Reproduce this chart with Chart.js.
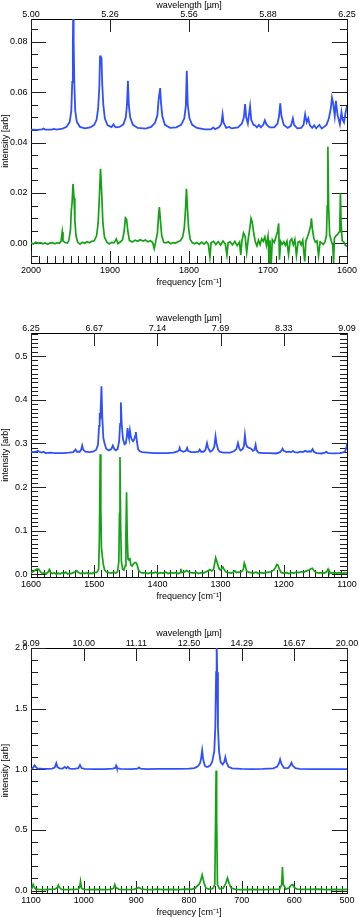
<!DOCTYPE html>
<html>
<head>
<meta charset="utf-8">
<script src="https://cdn.jsdelivr.net/npm/chart.js@4.4.1/dist/chart.umd.min.js"></script>
<style>
  html, body { margin: 0; padding: 0; background: #fff; overflow: hidden; }
  body { width: 359px; height: 918px; position: relative; }
  canvas { position: absolute; left: 0; }
</style>
</head>
<body>
<canvas id="p1" width="359" height="300" style="top:0px"></canvas>
<canvas id="p2" width="359" height="306" style="top:306px"></canvas>
<canvas id="p3" width="359" height="306" style="top:612px"></canvas>
<script>
// ---- panel 1: 2000-1600 cm-1 ----
const p1FreqTicks = [2000, 1900, 1800, 1700, 1600];
const p1WaveLabels = ['5.00', '5.26', '5.56', '5.88', '6.25'];
const p1IntTicks = [0.00, 0.02, 0.04, 0.06, 0.08];
const p1IntLabels = ['0.00', '0.02', '0.04', '0.06', '0.08'];
const p1Blue = [[2000,0.0451],[1992,0.0450],[1986,0.0452],[1984,0.0455],[1982,0.0451],[1974,0.0451],[1971,0.0454],[1968,0.0451],[1960,0.0455],[1955,0.0462],[1951,0.0482],[1949,0.0525],[1947.8,0.064],[1947,0.080],[1946.5,0.096],[1946,0.080],[1945.2,0.064],[1944,0.0525],[1942,0.0482],[1938,0.0462],[1932,0.0456],[1925,0.0460],[1920,0.0470],[1917,0.0490],[1915,0.0535],[1913.5,0.062],[1912.6,0.0745],[1911.6,0.0715],[1910.8,0.0738],[1909.8,0.063],[1908.5,0.055],[1906.5,0.0495],[1903,0.0468],[1898,0.0461],[1895.5,0.0472],[1893,0.0460],[1888,0.0462],[1883,0.0472],[1880,0.0500],[1878.5,0.0550],[1877.3,0.0645],[1876.2,0.0550],[1874.5,0.0500],[1871,0.0470],[1865,0.0458],[1861,0.0457],[1855,0.0455],[1848,0.0462],[1843,0.0478],[1840,0.0508],[1838.6,0.0565],[1837.8,0.0585],[1836.5,0.0616],[1835.4,0.0555],[1833.8,0.0505],[1830.5,0.0470],[1824,0.0458],[1816,0.0460],[1810,0.0470],[1806,0.0495],[1804,0.0545],[1802.8,0.0685],[1801.6,0.0550],[1799.5,0.0497],[1796,0.0470],[1790,0.0458],[1780,0.0452],[1772,0.0452],[1769.5,0.0460],[1767,0.0453],[1762,0.0460],[1759,0.0475],[1757.5,0.0512],[1756.3,0.0480],[1753,0.0458],[1749,0.0462],[1746,0.0456],[1738,0.0460],[1733,0.0475],[1730.5,0.0500],[1729,0.0552],[1727.6,0.0500],[1725.5,0.0475],[1722.7,0.0544],[1721.2,0.0490],[1718.5,0.0470],[1716.5,0.0468],[1714,0.0460],[1711.5,0.0470],[1709,0.0460],[1706,0.0470],[1704,0.0488],[1702,0.0472],[1698,0.0460],[1692,0.0460],[1688,0.0475],[1686,0.0505],[1684.5,0.0555],[1683,0.0505],[1680,0.0470],[1675,0.0458],[1671,0.0466],[1668.5,0.0496],[1667,0.0470],[1663,0.0456],[1658,0.0458],[1655,0.0470],[1653,0.0512],[1651,0.0480],[1649,0.0496],[1647,0.0468],[1644,0.0458],[1641.5,0.0468],[1639,0.0456],[1635,0.0470],[1632,0.0456],[1629,0.0462],[1626,0.0470],[1623,0.0495],[1620.5,0.0535],[1619,0.0578],[1617.5,0.0555],[1615.5,0.0505],[1614,0.0565],[1612,0.0510],[1609,0.0472],[1607,0.0521],[1605.5,0.0490],[1603.8,0.0480],[1602,0.0515],[1600,0.0545]];
const p1Green = [[2000,0.0002],[1997,-0.0003],[1994,0.0004],[1991,0.0000],[1988,0.0003],[1985,-0.0002],[1982,0.0002],[1979,-0.0004],[1976,0.0001],[1973,0.0003],[1970,-0.0002],[1967,0.0002],[1964,0.0000],[1962,0.0008],[1960.5,0.0045],[1959.5,0.0010],[1957,0.0003],[1954,0.0001],[1952,0.0012],[1950,0.0055],[1949,0.0130],[1948,0.0160],[1946.8,0.0235],[1945.5,0.0180],[1944.5,0.0090],[1943,0.0030],[1941,0.0005],[1938,-0.0003],[1935,0.0004],[1932,0.0000],[1929,0.0006],[1926,0.0002],[1923,0.0008],[1920,0.0010],[1917,0.0030],[1915,0.0080],[1913.5,0.0180],[1912,0.0296],[1910.5,0.0200],[1909,0.0080],[1907,0.0025],[1904,0.0005],[1901,-0.0002],[1898,0.0004],[1895,0.0002],[1892,0.0017],[1890,-0.0001],[1887,0.0005],[1884,0.0015],[1882,0.0050],[1880.5,0.0101],[1879,0.0095],[1877.5,0.0050],[1875.5,0.0012],[1872,0.0005],[1868,0.0012],[1865,0.0008],[1862,0.0014],[1858,0.0009],[1855,0.0013],[1852,0.0006],[1849,0.0010],[1846,0.0003],[1844,-0.0021],[1842,0.0010],[1840,0.0040],[1838.5,0.0110],[1837.5,0.0144],[1836.2,0.0090],[1834.5,0.0030],[1832,0.0004],[1829,0.0002],[1826,0.0006],[1823,-0.0002],[1820,0.0003],[1817,0.0001],[1814,0.0006],[1811,0.0010],[1808,0.0025],[1806,0.0060],[1804.5,0.0130],[1803.2,0.0216],[1802,0.0140],[1800.5,0.0060],[1798.5,0.0015],[1796,0.0003],[1793,-0.0002],[1790,0.0003],[1787,-0.0004],[1784,0.0005],[1781,-0.0003],[1778,0.0006],[1775.5,-0.0004],[1773.5,-0.0055],[1772,0.0003],[1769,0.0008],[1766,-0.0005],[1763,0.0007],[1760,-0.0007],[1757,0.0009],[1754,-0.0003],[1752,-0.0047],[1750.5,0.0002],[1748,0.0006],[1745,-0.0006],[1742,0.0008],[1739,-0.0009],[1736,0.0005],[1734.5,-0.0046],[1733,0.0010],[1731,0.0041],[1729,0.0028],[1727,-0.0036],[1725,0.0018],[1723,0.0060],[1721.5,0.0099],[1720,0.0085],[1718,0.0040],[1716,0.0005],[1714,-0.0010],[1712,0.0012],[1710,-0.0005],[1708,0.0018],[1706,0.0008],[1704,0.0025],[1702,-0.0008],[1700,0.0028],[1698.5,-0.0085],[1697.5,0.0012],[1696,-0.0085],[1694.5,0.0015],[1692,0.0003],[1690,0.0025],[1688,0.0045],[1686.5,0.0079],[1685.5,-0.0065],[1684,0.0008],[1682,-0.0004],[1680,0.0006],[1678,-0.0008],[1676,0.0008],[1674,-0.0044],[1672,0.0010],[1670,0.0018],[1668,-0.0006],[1666,0.0015],[1664,-0.0048],[1662,0.0004],[1660,0.0008],[1658,-0.0006],[1656,0.0012],[1653.5,-0.0072],[1652,0.0010],[1650,0.0025],[1648,0.0045],[1646,0.0070],[1645,0.0099],[1644,0.0060],[1642,0.0020],[1640,0.0005],[1638,0.0010],[1636,-0.0048],[1634,0.0006],[1632,0.0002],[1630,-0.0004],[1628,0.0006],[1626,0.0030],[1625,0.0150],[1624.2,0.0383],[1623.3,0.0150],[1622,0.0035],[1620,0.0010],[1618,-0.0008],[1617,-0.0078],[1616,0.0020],[1614,0.0030],[1612,0.0035],[1610,0.0045],[1609,0.0090],[1608.3,0.0199],[1607.5,0.0080],[1606,0.0010],[1604,0.0005],[1602,-0.0008],[1600,-0.0012]];

// ---- panel 2: 1600-1100 cm-1 ----
const p2FreqTicks = [1600, 1500, 1400, 1300, 1200, 1100];
const p2WaveLabels = ['6.25', '6.67', '7.14', '7.69', '8.33', '9.09'];
const p2IntTicks = [0.0, 0.1, 0.2, 0.3, 0.4, 0.5];
const p2IntLabels = ['0.0', '0.1', '0.2', '0.3', '0.4', '0.5'];
const p2Blue = [[1600,0.281],[1596,0.280],[1592,0.281],[1589,0.283],[1587,0.281],[1583,0.279],[1580,0.281],[1577,0.278],[1570,0.279],[1562,0.278],[1550,0.278],[1540,0.279],[1533,0.280],[1529.5,0.286],[1527.5,0.281],[1523,0.281],[1520.5,0.286],[1519,0.295],[1517.5,0.286],[1514,0.281],[1508,0.280],[1502,0.281],[1497,0.285],[1494,0.297],[1492.3,0.340],[1491.3,0.370],[1490.3,0.355],[1488.5,0.431],[1487.2,0.360],[1485.5,0.312],[1483.5,0.300],[1481,0.288],[1477,0.284],[1473,0.287],[1470.5,0.295],[1468.5,0.288],[1466,0.284],[1463,0.287],[1460.5,0.305],[1459,0.345],[1457.8,0.394],[1456.5,0.345],[1454.5,0.310],[1452,0.298],[1450,0.300],[1448.5,0.315],[1447.2,0.335],[1446,0.318],[1445,0.312],[1443.5,0.330],[1442,0.315],[1440.5,0.309],[1438.5,0.305],[1437,0.308],[1435,0.318],[1434,0.326],[1432.5,0.305],[1430.5,0.287],[1428,0.282],[1424,0.280],[1415,0.279],[1405,0.278],[1395,0.278],[1385,0.278],[1375,0.279],[1369,0.281],[1366,0.284],[1364.8,0.290],[1363.5,0.284],[1359,0.281],[1355,0.283],[1353,0.290],[1351.5,0.283],[1347,0.280],[1340,0.280],[1335,0.281],[1333,0.286],[1331,0.281],[1327,0.281],[1324,0.285],[1321.5,0.301],[1319.8,0.290],[1318,0.285],[1316.3,0.281],[1313,0.284],[1310,0.292],[1308,0.316],[1306.5,0.300],[1304,0.286],[1301.5,0.281],[1296,0.279],[1290,0.279],[1285,0.279],[1279,0.282],[1275,0.287],[1272.5,0.301],[1270.5,0.289],[1268.5,0.284],[1265,0.287],[1263,0.295],[1261.5,0.319],[1260,0.300],[1258,0.292],[1256.5,0.291],[1254,0.289],[1251.5,0.288],[1249,0.283],[1246.5,0.285],[1244.6,0.297],[1243,0.284],[1240,0.279],[1232,0.278],[1222,0.278],[1212,0.277],[1206,0.280],[1203,0.285],[1202,0.288],[1200,0.283],[1196,0.280],[1192,0.281],[1188,0.280],[1185.5,0.283],[1183,0.280],[1178,0.279],[1174,0.281],[1170,0.280],[1166,0.283],[1163,0.281],[1160,0.282],[1157,0.281],[1154.5,0.287],[1152.5,0.281],[1148,0.278],[1140,0.277],[1135,0.279],[1132.8,0.281],[1130,0.278],[1120,0.277],[1110,0.278],[1105,0.280],[1103,0.282],[1101,0.290],[1100,0.301]];
const p2Green = [[1600,0.004],[1597,0.006],[1594,0.009],[1591,0.012],[1588,0.012],[1585,0.006],[1582,0.002],[1579,0.004],[1576,0.001],[1573,0.005],[1571,0.011],[1569,0.004],[1566,0.002],[1563,0.004],[1560,0.000],[1557,0.003],[1554,0.001],[1551,0.004],[1548,0.002],[1545,0.005],[1542,0.001],[1539,0.003],[1536,0.002],[1533,0.004],[1530,0.006],[1527.5,0.008],[1525,0.004],[1521,0.002],[1518,0.004],[1515,0.002],[1512,0.004],[1509,0.001],[1506,0.003],[1503,0.002],[1500,0.005],[1497,0.004],[1495,0.006],[1493,0.012],[1491.8,0.080],[1490.5,0.275],[1489.5,0.150],[1488.5,0.060],[1487,0.040],[1485.5,0.022],[1483.5,0.010],[1481,0.006],[1477,0.004],[1473,0.003],[1469,0.005],[1466,0.003],[1463,0.006],[1461,0.030],[1460,0.140],[1459.2,0.269],[1458.2,0.120],[1457,0.030],[1455,0.012],[1453,0.010],[1451,0.020],[1449.8,0.090],[1448.8,0.188],[1447.8,0.090],[1446.5,0.035],[1445,0.034],[1443.5,0.036],[1442,0.022],[1440,0.019],[1438,0.024],[1436,0.027],[1434,0.027],[1432,0.022],[1430,0.010],[1427,0.005],[1423,0.003],[1419,0.004],[1415,0.002],[1411,0.004],[1407,0.003],[1403,0.005],[1399,0.002],[1395,0.004],[1391,0.003],[1387,0.005],[1383,0.002],[1379,0.004],[1375,0.003],[1371,0.004],[1367,0.002],[1364,0.004],[1363,0.013],[1362,0.004],[1358,0.005],[1354,0.009],[1351,0.006],[1347,0.004],[1343,0.003],[1339,0.005],[1335,0.002],[1331,0.004],[1327,0.003],[1323,0.006],[1320,0.008],[1317,0.011],[1314,0.008],[1311,0.012],[1309,0.028],[1307.8,0.038],[1306,0.030],[1304,0.020],[1302,0.012],[1300,0.010],[1298,0.014],[1296.3,0.017],[1294,0.010],[1291,0.005],[1287,0.004],[1283,0.003],[1280,0.005],[1277.5,0.008],[1275,0.004],[1271,0.005],[1267,0.006],[1264,0.012],[1262.5,0.026],[1261,0.020],[1259,0.008],[1256,0.005],[1252,0.004],[1248,0.003],[1244,0.005],[1240,0.002],[1236,0.004],[1232,0.003],[1228,0.004],[1224,0.005],[1220,0.006],[1216,0.010],[1213,0.016],[1211,0.023],[1209.5,0.022],[1207,0.012],[1204,0.004],[1200,0.003],[1196,0.004],[1192,0.002],[1188,0.004],[1184,0.003],[1180,0.005],[1176,0.004],[1172,0.006],[1168,0.005],[1164,0.008],[1160,0.010],[1157,0.013],[1155,0.014],[1152,0.008],[1148,0.004],[1144,0.003],[1140,0.004],[1136,0.003],[1132,0.006],[1130,0.012],[1128.5,0.006],[1125,0.003],[1120,0.004],[1116,0.003],[1112,0.004],[1108,0.002],[1104,0.004],[1100,0.003]];

// ---- panel 3: 1100-500 cm-1 ----
const p3FreqTicks = [1100, 1000, 900, 800, 700, 600, 500];
const p3WaveLabels = ['9.09', '10.00', '11.11', '12.50', '14.29', '16.67', '20.00'];
const p3IntTicks = [0.0, 0.5, 1.0, 1.5, 2.0];
const p3IntLabels = ['0.0', '0.5', '1.0', '1.5', '2.0'];
const p3Blue = [[1100,1.005],[1097,1.008],[1095,1.02],[1093,1.033],[1091,1.02],[1088,1.008],[1080,1.005],[1070,1.003],[1060,1.006],[1055,1.015],[1052,1.05],[1050,1.02],[1046,1.008],[1040,1.006],[1036,1.02],[1033,1.008],[1030,1.02],[1027,1.006],[1018,1.004],[1010,1.01],[1007,1.036],[1004,1.01],[998,1.004],[980,1.002],[960,1.002],[945,1.005],[940,1.012],[938.5,1.03],[937,1.01],[930,1.003],[910,1.002],[898,1.005],[895,1.015],[892,1.005],[880,1.002],[860,1.003],[840,1.003],[820,1.003],[800,1.005],[790,1.01],[785,1.02],[782,1.03],[779,1.05],[777,1.09],[775,1.156],[773,1.08],[770,1.03],[767,1.02],[764,1.02],[760,1.03],[756,1.06],[752,1.15],[750,1.35],[748.5,1.8],[747.5,2.05],[746.5,1.8],[745,1.35],[743,1.15],[740,1.06],[736,1.04],[733,1.06],[731,1.1],[729,1.06],[725,1.02],[718,1.008],[700,1.003],[680,1.002],[660,1.003],[640,1.008],[633,1.02],[629,1.05],[627,1.082],[625,1.05],[620,1.012],[612,1.01],[608,1.03],[605.5,1.054],[603,1.03],[598,1.01],[590,1.003],[570,1.002],[550,1.001],[530,1.001],[500,1.001]];
const p3Green = [[1100,0.01],[1098,0.02],[1096,0.05],[1094,0.03],[1091,0.012],[1085,0.01],[1075,0.008],[1065,0.01],[1055,0.012],[1050,0.025],[1048,0.045],[1046,0.025],[1042,0.01],[1030,0.008],[1020,0.01],[1010,0.012],[1007.5,0.03],[1006,0.076],[1004,0.02],[1000,0.01],[990,0.008],[975,0.01],[960,0.008],[948,0.01],[943,0.02],[941,0.05],[939,0.025],[933,0.01],[920,0.008],[905,0.01],[898,0.02],[895,0.025],[892,0.015],[885,0.01],[870,0.008],[860,0.012],[850,0.008],[835,0.01],[820,0.008],[805,0.012],[795,0.01],[788,0.02],[784,0.04],[781,0.05],[778,0.08],[775,0.13],[772,0.07],[768,0.02],[762,0.012],[755,0.015],[751,0.05],[749.5,0.6],[748.5,0.99],[747.5,0.6],[746,0.05],[742,0.015],[735,0.02],[730,0.06],[727,0.104],[724,0.06],[720,0.02],[712,0.01],[700,0.008],[680,0.01],[660,0.008],[640,0.01],[628,0.012],[624,0.05],[622.5,0.194],[621,0.05],[616,0.012],[610,0.02],[606,0.045],[603,0.05],[600,0.025],[595,0.012],[585,0.01],[570,0.01],[555,0.012],[540,0.008],[525,0.01],[510,0.008],[500,0.01]];

const BLUE = '#3050ff';
const GREEN = '#14a214';
const FONT = { family: '"Liberation Sans", Arial, Helvetica, sans-serif', size: 9 };

function pts(arr) {
    return arr.map(p => ({ x: p[0], y: p[1] }));
}

// IDL-style ticks pointing into the plot on all four sides
const insideTicks = {
    id: 'insideTicks',
    beforeDatasetsDraw(chart, args, o) {
        const { ctx, chartArea: a, scales: { x, y } } = chart;
        const snap = v => Math.round(v) + 0.5;
        ctx.save();
        ctx.strokeStyle = '#222';
        ctx.lineWidth = 1;
        ctx.beginPath();
        for (let i = Math.ceil(x.min / o.xMinor); i <= Math.floor(x.max / o.xMinor); i++) {
            const px = snap(x.getPixelForValue(i * o.xMinor));
            const len = i % o.xEvery === 0 ? 12 : 7;
            ctx.moveTo(px, a.bottom); ctx.lineTo(px, a.bottom - len);
        }
        o.top.forEach(v => {
            const px = snap(x.getPixelForValue(v));
            ctx.moveTo(px, a.top); ctx.lineTo(px, a.top + 13);
        });
        for (let i = Math.ceil(y.min / o.yMinor - 1e-6); i <= Math.floor(y.max / o.yMinor + 1e-6); i++) {
            const py = snap(y.getPixelForValue(i * o.yMinor));
            const len = i % o.yEvery === 0 ? 15 : 7;
            ctx.moveTo(a.left, py); ctx.lineTo(a.left + len, py);
            ctx.moveTo(a.right, py); ctx.lineTo(a.right - len, py);
        }
        ctx.stroke();
        ctx.restore();
    }
};

function makePanel(id, p) {
    const border = { display: true, color: '#000', width: 1 };
    const grid = { display: false, drawTicks: false };
    new Chart(document.getElementById(id), {
        type: 'line',
        data: {
            datasets: [
                { data: pts(p.blue), borderColor: BLUE, borderWidth: 1.8, pointRadius: 0, tension: 0 },
                { data: pts(p.green), borderColor: GREEN, borderWidth: 1.7, pointRadius: 0, tension: 0 }
            ]
        },
        options: {
            responsive: false,
            animation: false,
            layout: { padding: 0 },
            plugins: {
                legend: { display: false },
                tooltip: { enabled: false },
                insideTicks: { xMinor: 10, xEvery: 10, yMinor: p.yMinor, yEvery: p.yEvery, top: p.freqTicks }
            },
            scales: {
                x: {
                    type: 'linear', position: 'bottom', reverse: true,
                    min: p.fmin, max: p.fmax,
                    grid, border,
                    afterBuildTicks: s => { s.ticks = p.freqTicks.map(v => ({ value: v })); },
                    ticks: { font: FONT, color: '#000', padding: 2.5, autoSkip: false, maxRotation: 0, callback: v => String(v) },
                    title: { display: true, text: 'frequency [cm\u207B\u00B9]', font: FONT, color: '#000', padding: { top: 0, bottom: p.xTitlePad } },
                    afterFit: s => { s.height = p.bottomH; s.paddingLeft = 0; s.paddingRight = 0; }
                },
                xTop: {
                    type: 'linear', position: 'top', reverse: true,
                    min: p.fmin, max: p.fmax,
                    grid, border,
                    afterBuildTicks: s => { s.ticks = p.freqTicks.map(v => ({ value: v })); },
                    ticks: { font: FONT, color: '#000', padding: -1, autoSkip: false, maxRotation: 0, callback: (v, i) => p.waveLabels[i] },
                    title: { display: true, text: 'wavelength [\u00B5m]', font: FONT, color: '#000', padding: { top: p.topTitlePad, bottom: 0 } },
                    afterFit: s => { s.height = p.topH; s.paddingLeft = 0; s.paddingRight = 0; }
                },
                y: {
                    type: 'linear', position: 'left',
                    min: p.ymin, max: p.ymax,
                    grid, border,
                    afterBuildTicks: s => { s.ticks = p.intTicks.map(v => ({ value: v })); },
                    ticks: { font: FONT, color: '#000', padding: 3.5, callback: (v, i) => p.intLabels[i] },
                    title: { display: true, text: 'intensity [arb]', font: FONT, color: '#000', padding: { top: 0, bottom: 0 } },
                    afterFit: s => { s.width = 31; s.paddingTop = 0; s.paddingBottom = 0; }
                },
                yRight: {
                    type: 'linear', position: 'right',
                    min: p.ymin, max: p.ymax,
                    grid, border,
                    ticks: { display: false },
                    afterFit: s => { s.width = 12; s.paddingTop = 0; s.paddingBottom = 0; }
                }
            }
        },
        plugins: [insideTicks]
    });
}

makePanel('p1', {
    blue: p1Blue, green: p1Green, fmin: 1600, fmax: 2000, ymin: -0.0078, ymax: 0.089,
    freqTicks: p1FreqTicks, waveLabels: p1WaveLabels, intTicks: p1IntTicks, intLabels: p1IntLabels,
    yMinor: 0.005, yEvery: 4, topH: 19, bottomH: 37, topTitlePad: 0, xTitlePad: 12
});
makePanel('p2', {
    blue: p2Blue, green: p2Green, fmin: 1100, fmax: 1600, ymin: -0.006, ymax: 0.553,
    freqTicks: p2FreqTicks, waveLabels: p2WaveLabels, intTicks: p2IntTicks, intLabels: p2IntLabels,
    yMinor: 0.01, yEvery: 10, topH: 27, bottomH: 35, topTitlePad: 7, xTitlePad: 10
});
makePanel('p3', {
    blue: p3Blue, green: p3Green, fmin: 500, fmax: 1100, ymin: -0.02, ymax: 2.0,
    freqTicks: p3FreqTicks, waveLabels: p3WaveLabels, intTicks: p3IntTicks, intLabels: p3IntLabels,
    yMinor: 0.1, yEvery: 5, topH: 36, bottomH: 25, topTitlePad: 16, xTitlePad: 0
});
</script>
</body>
</html>
